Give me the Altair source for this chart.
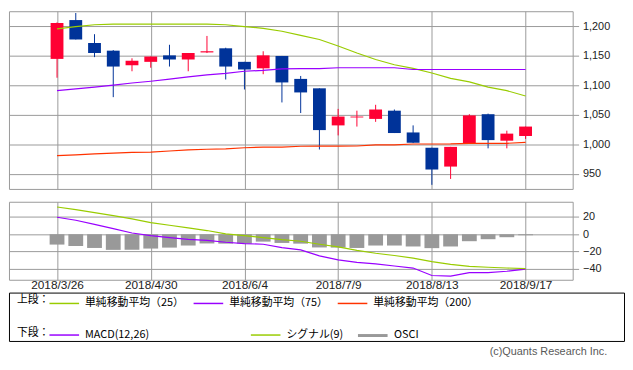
import altair as alt
import pandas as pd

# ---------------- data ----------------
week_labels = ["2018/3/26", "2018/4/2", "2018/4/9", "2018/4/16", "2018/4/23", "2018/4/30",
               "2018/5/7", "2018/5/14", "2018/5/21", "2018/5/28", "2018/6/4", "2018/6/11",
               "2018/6/18", "2018/6/25", "2018/7/2", "2018/7/9", "2018/7/16", "2018/7/23",
               "2018/7/30", "2018/8/6", "2018/8/13", "2018/8/20", "2018/8/27", "2018/9/3",
               "2018/9/10", "2018/9/17"]
tick_weeks = [0, 5, 10, 15, 20, 25]
tick_labels = ["2018/3/26", "2018/4/30", "2018/6/4", "2018/7/9", "2018/8/13", "2018/9/17"]

opens = [1145, 1211, 1172, 1159, 1134, 1140, 1151, 1144, 1156, 1163, 1140, 1129, 1150,
         1111, 1095, 1032, 1045.5, 1043, 1057, 1020, 994, 962, 1001.5, 1051, 1006, 1014]
highs = [1207, 1223, 1187, 1160, 1146, 1149, 1169, 1155, 1184, 1164, 1140, 1158, 1150,
         1116, 1095, 1060, 1057, 1067, 1059, 1032, 994, 995.5, 1051, 1052, 1023, 1030]
lows = [1113, 1178, 1148, 1080, 1124, 1130, 1132, 1124, 1155, 1110, 1093, 1119, 1071,
        1053, 991, 1015, 1030, 1038, 1019, 1002, 931, 941, 1001, 993, 993, 1009]
closes = [1206, 1178, 1155, 1132, 1142, 1149, 1144, 1155, 1158, 1132, 1127, 1151, 1105,
          1088, 1024, 1047, 1047, 1059, 1019, 1002.5, 957, 995.5, 1049, 1007, 1018, 1030]

ma25 = [1196, 1200, 1203, 1204, 1204, 1204, 1204, 1204, 1204, 1203, 1200, 1197, 1192,
        1185, 1178, 1167, 1155, 1144, 1135, 1129, 1121, 1112, 1106, 1097, 1091, 1082]
ma75 = [1091, 1094, 1097, 1100.5, 1104, 1107, 1110.5, 1114.5, 1118, 1120.5, 1124, 1125.5,
        1128, 1128.6, 1128.6, 1130, 1130, 1130, 1130, 1127, 1127, 1127, 1127, 1127, 1127, 1127]
ma200 = [980.5, 982, 983.5, 985, 986, 986.5, 988.5, 990.5, 991.5, 992, 994, 995, 995,
         996.5, 996.7, 996.7, 997, 998.8, 999, 1000.4, 1000.4, 1000.5, 1001.5, 1001.5, 1001.5, 1003]

macd = [19.6, 16.2, 11.5, 6.5, 1.5, -1.5, -3.8, -5.8, -7.1, -9.2, -10.8, -11.5, -15.4,
        -18, -25, -29.6, -32.5, -34.2, -36.6, -39, -47.6, -48.4, -44.2, -44.2, -42.7, -40.2]
signal = [31.5, 28.5, 25, 21.5, 17.7, 13.5, 10.4, 7.3, 4.3, 0.4, -1.5, -3.8, -6.2, -8.1,
          -11.5, -14.6, -18.5, -21.9, -24.5, -27.5, -31.6, -34.7, -37, -38.1, -38.9, -39.6]
osci = [-11.9, -13.5, -15.8, -18, -18, -16.5, -15.4, -13, -10.6, -10.8, -10.8, -8.5, -10,
        -10.8, -15.2, -15.4, -15.8, -13, -13, -14.1, -16, -14.1, -8, -5.7, -3.4, -1.1]

ma_names = ["単純移動平均（25）", "単純移動平均（75）", "単純移動平均（200）"]
ma_colors = ["#99CC00", "#9900FF", "#FF3300"]
macd_names = ["MACD(12,26)", "シグナル(9)"]
macd_colors = ["#9900FF", "#99CC00"]
osci_name = "OSCI"
upper_title = "上段："
lower_title = "下段："
copyright_text = "(c)Quants Research Inc."

# ---------------- tables ----------------
idx = list(range(len(week_labels)))
candles = pd.DataFrame({"i": idx, "date": week_labels, "open": opens, "high": highs,
                        "low": lows, "close": closes})
ma_df = pd.concat([
    pd.DataFrame({"i": idx, "value": vals, "series": name})
    for name, vals in zip(ma_names, [ma25, ma75, ma200])
])
osc_df = pd.DataFrame({"i": idx, "osci": osci, "name": osci_name})
macd_df = pd.concat([
    pd.DataFrame({"i": idx, "value": vals, "series": name})
    for name, vals in zip(macd_names, [macd, signal])
])

JP = "Noto Sans CJK JP"
NUM = "Liberation Sans"
GRID = "#999999"
LEG_FS = 11

xscale = alt.Scale(domain=[-2.3, 27.25], nice=False, zero=False)
label_expr = "[" + ",".join("'%s'" % t for t in tick_labels) + "][datum.value / 5]"

# ---------------- upper panel ----------------
up_x_axis = alt.Axis(values=tick_weeks, grid=True, labels=False, ticks=False,
                     domain=False, title=None)
up_y_axis = alt.Axis(orient="right", values=[950, 1000, 1050, 1100, 1150, 1200],
                     format=",d", grid=True, ticks=True, tickSize=6, domain=False,
                     title=None, labelPadding=4, labelFontSize=11, labelOverlap=False)
yscale = alt.Scale(domain=[924, 1226], nice=False, zero=False)

candle_color = alt.condition("datum.close >= datum.open",
                             alt.value("#FF0033"), alt.value("#003399"))
base = alt.Chart(candles).encode(x=alt.X("i:Q", scale=xscale, axis=up_x_axis))
wicks = base.mark_rule(strokeWidth=1).encode(
    y=alt.Y("low:Q", scale=yscale, axis=up_y_axis), y2="high:Q", color=candle_color)
bodies = base.mark_bar(size=13).encode(
    y=alt.Y("open:Q", scale=yscale, axis=up_y_axis), y2="close:Q", color=candle_color)

ma_lines = alt.Chart(ma_df).mark_line(strokeWidth=1.2).encode(
    x=alt.X("i:Q", scale=xscale, axis=up_x_axis),
    y=alt.Y("value:Q", scale=yscale, axis=up_y_axis),
    color=alt.Color("series:N", sort=ma_names,
                    scale=alt.Scale(domain=ma_names, range=ma_colors),
                    legend=alt.Legend(title=None, orient="none", legendX=40, legendY=280,
                                      direction="horizontal", symbolType="stroke",
                                      symbolSize=900, symbolStrokeWidth=1.5,
                                      labelFont=JP, labelFontSize=LEG_FS, labelColor="#000000",
                                      labelOffset=5, columnPadding=6, padding=0)),
    order="i:Q",
)
upper = alt.layer(wicks, bodies, ma_lines).properties(width=571, height=180)

# ---------------- lower panel ----------------
lo_x_axis = alt.Axis(values=tick_weeks, grid=True, labels=True, ticks=False,
                     domain=False, title=None, labelExpr=label_expr, labelPadding=0,
                     labelFontSize=12)
lo_y_axis = alt.Axis(orient="right", values=[20, 0, -20, -40], format="d", grid=True,
                     ticks=True, tickSize=6, domain=False, title=None, labelPadding=4,
                     labelFontSize=11, labelOverlap=False)
y2scale = alt.Scale(domain=[-52.5, 37.5], nice=False, zero=False)

osc_bars = alt.Chart(osc_df).mark_bar(size=15).encode(
    x=alt.X("i:Q", scale=xscale, axis=lo_x_axis),
    y=alt.Y("osci:Q", scale=y2scale, axis=lo_y_axis),
    y2=alt.datum(0),
    fill=alt.Fill("name:N", scale=alt.Scale(domain=[osci_name], range=["#999999"]),
                  legend=alt.Legend(title=None, orient="none", legendX=352, legendY=119,
                                    symbolType="stroke", symbolSize=900,
                                    symbolStrokeColor="#999999", symbolStrokeWidth=3,
                                    labelFont=JP, labelFontSize=LEG_FS, labelColor="#000000",
                                    labelOffset=5, padding=0)),
)
macd_lines = alt.Chart(macd_df).mark_line(strokeWidth=1.2).encode(
    x=alt.X("i:Q", scale=xscale, axis=lo_x_axis),
    y=alt.Y("value:Q", scale=y2scale, axis=lo_y_axis),
    stroke=alt.Stroke("series:N", sort=macd_names,
                      scale=alt.Scale(domain=macd_names, range=macd_colors),
                      legend=alt.Legend(title=None, orient="none", legendX=40, legendY=119,
                                        direction="horizontal", symbolType="stroke",
                                        symbolSize=900, symbolStrokeWidth=1.5,
                                        labelFont=JP, labelFontSize=LEG_FS,
                                        labelColor="#000000", labelOffset=5,
                                        columnPadding=100, padding=0)),
    order="i:Q",
)
lower = alt.layer(osc_bars, macd_lines).properties(width=571, height=79)

# ---------------- legend box ----------------
t_up = alt.Chart(pd.DataFrame({"t": [upper_title]})).mark_text(
    align="left", baseline="middle", font=JP, fontSize=LEG_FS, color="#000000").encode(
    text="t:N", x=alt.value(8), y=alt.value(8))
t_lo = alt.Chart(pd.DataFrame({"t": [lower_title]})).mark_text(
    align="left", baseline="middle", font=JP, fontSize=LEG_FS, color="#000000").encode(
    text="t:N", x=alt.value(8), y=alt.value(41))
t_cr = alt.Chart(pd.DataFrame({"t": [copyright_text]})).mark_text(
    align="right", baseline="middle", font=NUM, fontSize=11, color="#595959").encode(
    text="t:N", x=alt.value(606), y=alt.value(60))
box = alt.layer(t_up, t_lo, t_cr).properties(
    width=623, height=49, view=alt.ViewBackground(stroke="#000000", strokeWidth=1))

chart = alt.vconcat(upper, lower, box, spacing=13, bounds="flush").resolve_scale(
    color="independent", fill="independent", stroke="independent"
).resolve_legend(
    color="independent", fill="independent", stroke="independent"
).properties(padding=0).configure_view(stroke=GRID, strokeWidth=1).configure_axis(
    gridColor=GRID, gridWidth=1, tickColor=GRID, labelFont=NUM, labelColor="#222222"
)

chart.save("out.html", embed_options={"renderer": "svg", "actions": False})
